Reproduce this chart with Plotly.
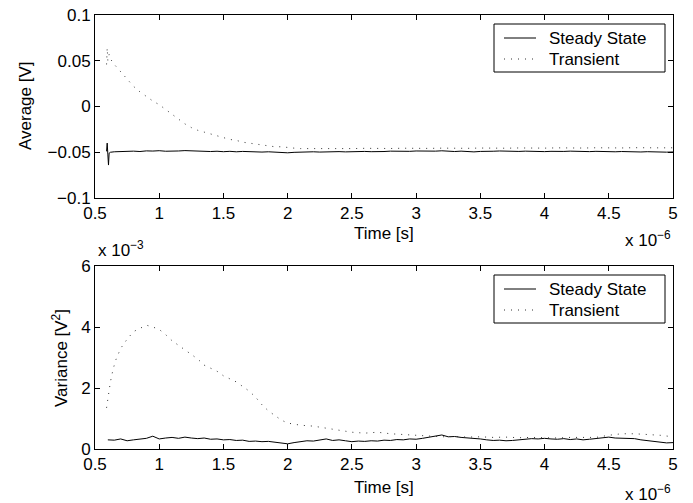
import numpy as np
import plotly.graph_objects as go
from plotly.subplots import make_subplots

# ---- data (time in units of 1e-6 s) ----
# Average voltage [V]
avg_ss_t = [0.59, 0.595, 0.60, 0.605, 0.61, 0.62] + list(np.round(np.arange(0.65, 5.001, 0.05), 3))
avg_ss = [-0.049, -0.040, -0.052, -0.064, -0.051, -0.050,
          -0.0495, -0.0490, -0.0493, -0.0488, -0.0492, -0.0485, -0.0487, -0.0483, -0.0489, -0.0491,
          -0.0486, -0.0482, -0.0485, -0.0490, -0.0487, -0.0492, -0.0489, -0.0494, -0.0490, -0.0495,
          -0.0491, -0.0496, -0.0493, -0.0498, -0.0495, -0.0500, -0.0503, -0.0506, -0.0501, -0.0497,
          -0.0500, -0.0495, -0.0498, -0.0494, -0.0497, -0.0493, -0.0496, -0.0492, -0.0495, -0.0491,
          -0.0494, -0.0489, -0.0492, -0.0488, -0.0491, -0.0487, -0.0490, -0.0486, -0.0489, -0.0485,
          -0.0488, -0.0484, -0.0489, -0.0492, -0.0488, -0.0493, -0.0496, -0.0491, -0.0494, -0.0489,
          -0.0486, -0.0490, -0.0487, -0.0491, -0.0488, -0.0492, -0.0489, -0.0493, -0.0490, -0.0494,
          -0.0491, -0.0488, -0.0492, -0.0489, -0.0493, -0.0490, -0.0494, -0.0491, -0.0495, -0.0492,
          -0.0496, -0.0493, -0.0497, -0.0494, -0.0498, -0.0495, -0.0499, -0.0497]

avg_tr_t = [0.59, 0.595, 0.60, 0.61, 0.62] + list(np.round(np.arange(0.65, 2.101, 0.05), 3)) \
    + list(np.round(np.arange(2.2, 5.001, 0.1), 3))
avg_tr = [0.046, 0.064, 0.050, 0.057, 0.052,
          0.046, 0.038, 0.030, 0.022, 0.016, 0.011, 0.006, 0.002, -0.003, -0.009,
          -0.014, -0.019, -0.023, -0.026, -0.028, -0.030, -0.032, -0.034, -0.036, -0.037,
          -0.039, -0.040, -0.041, -0.042, -0.043, -0.044, -0.044, -0.045, -0.0455, -0.046,
          -0.0462, -0.0458, -0.0463, -0.0460, -0.0457, -0.0461, -0.0459, -0.0456, -0.0460, -0.0458,
          -0.0455, -0.0459, -0.0457, -0.0454, -0.0458, -0.0456, -0.0453, -0.0457, -0.0455, -0.0452,
          -0.0456, -0.0454, -0.0451, -0.0455, -0.0453, -0.0450, -0.0454, -0.0452, -0.0451]

# Variance [V^2], values in units of 1e-3
var_ss_t = list(np.round(np.arange(0.60, 5.001, 0.05), 3))
var_ss = [0.30, 0.29, 0.33, 0.27, 0.30, 0.32, 0.35, 0.42, 0.33, 0.36,
          0.38, 0.35, 0.39, 0.36, 0.34, 0.36, 0.32, 0.33, 0.30, 0.31,
          0.28, 0.29, 0.25, 0.26, 0.24, 0.25, 0.22, 0.20, 0.17, 0.21,
          0.25, 0.27, 0.26, 0.29, 0.33, 0.28, 0.30, 0.27, 0.24, 0.26,
          0.25, 0.27, 0.26, 0.29, 0.28, 0.31, 0.30, 0.33, 0.32, 0.35,
          0.38, 0.42, 0.46, 0.40, 0.41, 0.38, 0.37, 0.34, 0.33, 0.30,
          0.28, 0.29, 0.27, 0.28, 0.30, 0.32, 0.34, 0.33, 0.35, 0.33,
          0.32, 0.34, 0.31, 0.33, 0.30, 0.32, 0.34, 0.35, 0.39, 0.36,
          0.35, 0.33, 0.34, 0.30, 0.28, 0.26, 0.22, 0.20, 0.21]

var_tr_t = [0.59, 0.60, 0.62, 0.64, 0.66, 0.70, 0.75, 0.80, 0.85, 0.90, 0.95, 1.00,
            1.05, 1.10, 1.15, 1.20, 1.25, 1.30, 1.35, 1.40, 1.45, 1.50, 1.55, 1.60,
            1.65, 1.70, 1.75, 1.80, 1.85, 1.90, 1.95, 2.00, 2.10, 2.20, 2.30, 2.40,
            2.50, 2.60, 2.70, 2.80, 2.90, 3.00, 3.10, 3.20, 3.30, 3.40, 3.50, 3.60,
            3.70, 3.80, 3.90, 4.00, 4.10, 4.20, 4.30, 4.40, 4.50, 4.60, 4.70, 4.80,
            4.90, 5.00]
var_tr = [1.35, 1.70, 2.20, 2.60, 2.90, 3.30, 3.60, 3.85, 3.95, 4.06, 4.00, 3.92,
          3.75, 3.55, 3.40, 3.25, 3.10, 2.95, 2.75, 2.65, 2.55, 2.40, 2.30, 2.20,
          2.05, 1.90, 1.70, 1.45, 1.25, 1.10, 0.95, 0.85, 0.78, 0.75, 0.68, 0.60,
          0.55, 0.52, 0.55, 0.50, 0.47, 0.45, 0.42, 0.40, 0.41, 0.39, 0.40, 0.38,
          0.39, 0.37, 0.38, 0.37, 0.36, 0.38, 0.37, 0.38, 0.45, 0.50, 0.50, 0.48,
          0.45, 0.40]

series_names = ["Steady State", "Transient"]
x_ticks = [0.5, 1, 1.5, 2, 2.5, 3, 3.5, 4, 4.5, 5]
x_ticktext = ["0.5", "1", "1.5", "2", "2.5", "3", "3.5", "4", "4.5", "5"]
avg_ticks = [-0.1, -0.05, 0, 0.05, 0.1]
avg_ticktext = ["\u22120.1", "\u22120.05", "0", "0.05", "0.1"]
var_ticks = [0, 2, 4, 6]
var_ticktext = ["0", "2", "4", "6"]

# ---- layout geometry (pixels) ----
W, H = 693, 503
ML, MR, MT, MB = 95, 20, 15, 54
PW, PH = W - ML - MR, H - MT - MB
FONT = "Liberation Sans, Arial, Helvetica, sans-serif"
FS = 17


def px_x(x):
    return (x - ML) / PW


def px_y(y):
    return 1 - (y - MT) / PH


fig = make_subplots(rows=2, cols=1, vertical_spacing=68 / PH)

line_solid = dict(color="black", width=1)
line_dot = dict(color="#333333", width=1, dash="1px,6px")

fig.add_trace(go.Scatter(x=avg_ss_t, y=avg_ss, mode="lines", line=line_solid,
                         name=series_names[0]), row=1, col=1)
fig.add_trace(go.Scatter(x=avg_tr_t, y=avg_tr, mode="lines", line=line_dot,
                         name=series_names[1]), row=1, col=1)
fig.add_trace(go.Scatter(x=var_ss_t, y=var_ss, mode="lines", line=line_solid,
                         name=series_names[0]), row=2, col=1)
fig.add_trace(go.Scatter(x=var_tr_t, y=var_tr, mode="lines", line=line_dot,
                         name=series_names[1]), row=2, col=1)

axis_style = dict(showline=True, linecolor="black", linewidth=1, mirror="ticks",
                  ticks="inside", ticklen=5, tickcolor="black", tickwidth=1,
                  showgrid=False, zeroline=False,
                  tickfont=dict(family=FONT, size=FS, color="black"))

fig.update_xaxes(range=[0.5, 5], tickvals=x_ticks, ticktext=x_ticktext, **axis_style)
fig.update_yaxes(range=[-0.1, 0.1], tickvals=avg_ticks, ticktext=avg_ticktext,
                 row=1, col=1, **axis_style)
fig.update_yaxes(range=[0, 6], tickvals=var_ticks, ticktext=var_ticktext,
                 row=2, col=1, **axis_style)

ann_font = dict(family=FONT, size=FS, color="black")


def text_at(text, x, y, xanchor="center", yanchor="middle", **kw):
    return dict(text=text, x=px_x(x), y=px_y(y), xref="paper", yref="paper",
                xanchor=xanchor, yanchor=yanchor, showarrow=False, font=ann_font, **kw)


annotations = [
    text_at("Time [s]", 384, 233),
    text_at("Time [s]", 384, 487),
    text_at("Average [V]", 25, 106, textangle=-90),
    text_at("Variance [V<sup>2</sup>]", 60, 358, textangle=-90),
    text_at("x 10<sup>\u22126</sup>", 673, 239, xanchor="right"),
    text_at("x 10<sup>\u22126</sup>", 673, 493, xanchor="right"),
    text_at("x 10<sup>\u22123</sup>", 96, 249, xanchor="left"),
]

# boxed legends (one per panel)
shapes = []
for top in (24, 275):
    box_l, box_r, box_b = 494, 665, top + 48
    shapes.append(dict(type="rect", xref="paper", yref="paper",
                       x0=px_x(box_l), x1=px_x(box_r), y0=px_y(box_b), y1=px_y(top),
                       line=dict(color="black", width=1), fillcolor="white", layer="above"))
    for k, (name, style) in enumerate(zip(series_names, (line_solid, line_dot))):
        row_y = top + 14 + 21 * k
        shapes.append(dict(type="line", xref="paper", yref="paper",
                           x0=px_x(504), x1=px_x(536), y0=px_y(row_y), y1=px_y(row_y),
                           line=style, layer="above"))
        annotations.append(text_at(name, 547, row_y, xanchor="left"))

fig.update_layout(
    width=W, height=H,
    margin=dict(l=ML, r=MR, t=MT, b=MB, autoexpand=False),
    paper_bgcolor="white", plot_bgcolor="white",
    font=dict(family=FONT, size=FS, color="black"),
    showlegend=False,
    annotations=annotations,
    shapes=shapes,
)

fig.write_html("out.html")
